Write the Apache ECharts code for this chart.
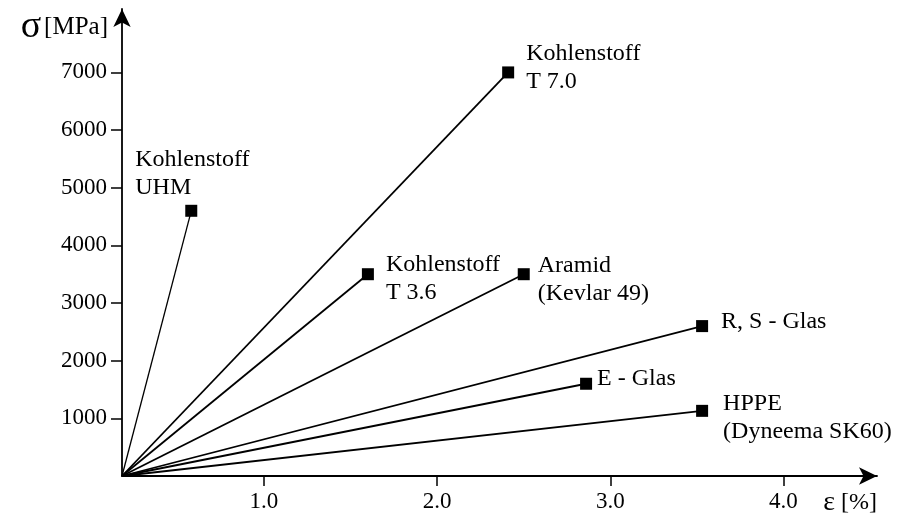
<!DOCTYPE html>
<html>
<head>
<meta charset="utf-8">
<script src="https://cdn.jsdelivr.net/npm/echarts@6/dist/echarts.min.js"></script>
<style>
  html, body { margin: 0; background: #fff; }
  #chart { width: 914px; height: 514px; }
</style>
</head>
<body>
<div id="chart"></div>
<script>
// Werkstoffe (Fasern) und ihre Bruchpunkte
const materials = ['Kohlenstoff UHM', 'Kohlenstoff T 7.0', 'Kohlenstoff T 3.6', 'Aramid', 'R, S - Glas', 'E - Glas', 'HPPE'];
const labelTexts = ['Kohlenstoff\nUHM', 'Kohlenstoff\nT 7.0', 'Kohlenstoff\nT 3.6', 'Aramid\n(Kevlar 49)', 'R, S - Glas', 'E - Glas', 'HPPE\n(Dyneema SK60)'];
const strain = [0.58, 2.41, 1.60, 2.50, 3.53, 2.86, 3.53];   // ε [%]
const stress = [4600, 7000, 3500, 3500, 2600, 1600, 1130];   // σ [MPa]
const origin = [0.18, 0];
const xTicks = [1.0, 2.0, 3.0, 4.0];
const yTicks = [1000, 2000, 3000, 4000, 5000, 6000, 7000];

// label placement relative to the marker: [left edge, vertical middle]
const labelOffsets = [[-56, -37], [18, -5], [18, 4], [14, 5], [19, -4], [11, -5], [21, 7]];

const font = 'Liberation Serif';
const ink = '#000';

const chart = echarts.init(document.getElementById('chart'));

const series = materials.map((name, i) => ({
  name: name,
  type: 'line',
  silent: true,
  lineStyle: { color: ink, width: i === 0 ? 1.3 : 1.8 },
  itemStyle: { color: ink },
  symbol: 'rect',
  symbolSize: 12,
  data: [
    { value: origin, symbol: 'none' },
    {
      value: [strain[i], stress[i]],
      label: {
        show: true,
        formatter: labelTexts[i],
        position: 'inside',
        align: 'left',
        verticalAlign: 'middle',
        offset: labelOffsets[i],
        color: ink,
        fontFamily: font,
        fontSize: 24,
        lineHeight: 28,
        textBorderWidth: 0
      }
    }
  ]
}));

chart.setOption({
  animation: false,
  backgroundColor: '#fff',
  grid: { left: 122, right: 37, top: 9, bottom: 38, outerBoundsMode: 'none' },
  xAxis: {
    type: 'value',
    min: origin[0],
    max: 4.54,
    name: '{e|ε} [%]',
    nameLocation: 'end',
    nameGap: 0,
    nameMoveOverlap: false,
    nameTextStyle: {
      color: ink, fontFamily: font, fontSize: 24, align: 'right', verticalAlign: 'top', padding: [13, 0, 0, 0],
      rich: { e: { fontSize: 28, fontFamily: font, color: ink } }
    },
    axisLine: { onZero: false, lineStyle: { color: ink, width: 1.8 }, symbol: ['none', 'arrow'], symbolSize: [13, 18] },
    axisTick: { show: true, length: 10, customValues: xTicks, lineStyle: { color: ink, width: 1.5 } },
    axisLabel: { customValues: xTicks, color: ink, fontFamily: font, fontSize: 23, margin: 14, formatter: v => v.toFixed(1) },
    splitLine: { show: false }
  },
  yAxis: {
    type: 'value',
    min: 0,
    max: 8100,
    name: '{s|σ} {u|[MPa]}',
    nameLocation: 'end',
    nameGap: -18,
    nameMoveOverlap: false,
    nameTextStyle: {
      color: ink, fontFamily: font, align: 'right', verticalAlign: 'middle', padding: [0, 14, 0, 0],
      rich: { s: { fontSize: 38, fontFamily: font, color: ink }, u: { fontSize: 25, fontFamily: font, color: ink } }
    },
    axisLine: { show: true, onZero: false, lineStyle: { color: ink, width: 1.8 }, symbol: ['none', 'arrow'], symbolSize: [13, 18] },
    axisTick: { show: true, length: 11, customValues: yTicks, lineStyle: { color: ink, width: 1.5 } },
    axisLabel: { customValues: yTicks, color: ink, fontFamily: font, fontSize: 23, margin: 15, formatter: v => String(v) },
    splitLine: { show: false }
  },
  series: series
});
</script>
</body>
</html>
